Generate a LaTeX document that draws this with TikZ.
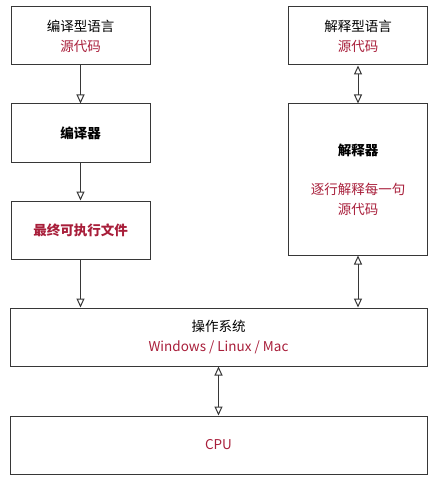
\documentclass[tikz,border=0pt]{standalone}
\usepackage{fontspec}
\setmainfont{Noto Sans CJK SC}
\usetikzlibrary{positioning, arrows.meta}
\definecolor{accent}{RGB}{168,30,58}
\definecolor{boxline}{RGB}{55,55,55}

\begin{document}
\begin{tikzpicture} [x = 1pt, y = 1pt, node distance = 38pt,
  box/.style = {draw = boxline, line width = 1pt, minimum width = 139pt, minimum height = 58pt,
    inner sep = 0pt, align = center, font = \fontsize{13.5}{20}\selectfont},
  wide/.style = {box, minimum width = 417pt}]
\useasboundingbox (0,0) rectangle (446,-484);
\node (src1) [box] at (80.5,-36) {编译型语言\\{\color{accent}源代码}};
\node (comp) [box, below = of src1] {\textbf{编译器}};
\node (exe) [box, below = of comp] {\color{accent}\textbf{最终可执行文件}};
\node (src2) [box] at (358,-36) {解释型语言\\{\color{accent}源代码}};
\node (interp) [box, below = of src2, minimum height = 151pt] {\textbf{解释器}\\[19pt]{\color{accent}逐行解释每一句}\\{\color{accent}源代码}};
\node (os) [wide] at (218.5,-337) {操作系统\\{\color{accent}Windows / Linux / Mac}};
\node (cpu) [wide, below = 49pt of os] {\color{accent}CPU};
\path [-{Triangle[open, length = 9pt, width = 8pt]}, line width = 1pt, draw = boxline]
    (src1) edge (comp)
    (comp) edge (exe)
    (exe) edge (exe |- os.north);
\path [{Triangle[open, length = 9pt, width = 8pt]}-{Triangle[open, length = 9pt, width = 8pt]}, line width = 1pt, draw = boxline]
    (src2) edge (interp)
    (interp) edge (interp |- os.north)
    (os) edge (cpu);
\end{tikzpicture}
\end{document}
